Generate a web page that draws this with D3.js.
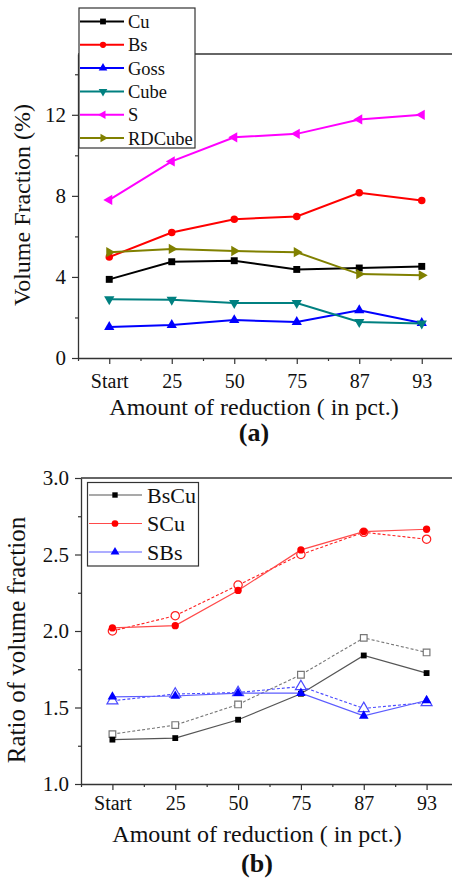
<!DOCTYPE html>
<html>
<head>
<meta charset="utf-8">
<script src="https://cdn.jsdelivr.net/npm/d3@7"></script>
<style>
  html, body { margin: 0; padding: 0; background: #fff; }
  svg { display: block; }
  text { font-family: "Liberation Serif", "Times New Roman", serif; fill: #111; }
</style>
</head>
<body>
<svg id="fig" width="452" height="879"></svg>
<script>
// Reduction steps shared by both panels
const reductionLabels = ["Start", "25", "50", "75", "87", "93"];

// Panel (a): texture component volume fractions (%)
const cuValues     = [3.88, 4.75, 4.80, 4.37, 4.44, 4.52];
const bsValues     = [4.98, 6.19, 6.85, 6.98, 8.15, 7.77];
const gossValues   = [1.53, 1.63, 1.87, 1.78, 2.36, 1.73];
const cubeValues   = [2.90, 2.87, 2.71, 2.71, 1.78, 1.70];
const sValues      = [7.80, 9.70, 10.89, 11.06, 11.77, 12.00];
const rdCubeValues = [5.22, 5.38, 5.28, 5.22, 4.14, 4.08];
const panelATicks  = [0, 4, 8, 12];

// Panel (b): ratios of volume fractions (filled = measured, open = second set)
const bsCuRatio    = [1.29, 1.30, 1.42, 1.59, 1.84, 1.725];
const bsCuRatioAlt = [1.326, 1.385, 1.52, 1.714, 1.955, 1.86];
const sCuRatio     = [2.02, 2.035, 2.265, 2.53, 2.65, 2.665];
const sCuRatioAlt  = [2.00, 2.10, 2.30, 2.50, 2.645, 2.60];
const sBsRatio     = [1.57, 1.575, 1.594, 1.594, 1.445, 1.546];
const sBsRatioAlt  = [1.544, 1.588, 1.598, 1.637, 1.494, 1.533];
const panelBTicks  = [1.0, 1.5, 2.0, 2.5, 3.0];

const svg = d3.select("#fig");
const idx = d3.range(reductionLabels.length);
const halfIdx = d3.range(-0.5, reductionLabels.length, 1);

function symbolPath(type, size) {
  return d3.symbol().type(type).size(size)();
}

function drawAxes(g, x, y, opt) {
  const [x0, x1] = x.range();
  const [yb, yt] = y.range();
  // frame line along the top
  g.append("line").attr("x1", x0).attr("x2", x1).attr("y1", yt).attr("y2", yt)
    .attr("stroke", "#333").attr("stroke-width", 1.3);

  const xMajor = d3.axisBottom(x).tickValues(idx).tickSize(6).tickSizeOuter(0)
    .tickPadding(opt.xPad).tickFormat(i => reductionLabels[i]);
  const xa = g.append("g").attr("transform", `translate(0,${yb})`).call(xMajor);
  g.append("g").attr("transform", `translate(0,${yb})`)
    .call(d3.axisBottom(x).tickValues(halfIdx).tickSize(3).tickSizeOuter(0).tickFormat(""))
    .select(".domain").remove();

  const yMajor = d3.axisLeft(y).tickValues(opt.yTicks).tickSize(6).tickSizeOuter(0)
    .tickPadding(6).tickFormat(opt.yFormat);
  const ya = g.append("g").attr("transform", `translate(${x0},0)`).call(yMajor);
  g.append("g").attr("transform", `translate(${x0},0)`)
    .call(d3.axisLeft(y).tickValues(opt.yMinor).tickSize(3).tickSizeOuter(0).tickFormat(""))
    .select(".domain").remove();

  g.selectAll(".domain").attr("stroke", "#333").attr("stroke-width", 1.3);
  g.selectAll(".tick line").attr("stroke", "#333").attr("stroke-width", 1.2);
  xa.selectAll("text").attr("font-size", 20).attr("fill", "#111")
    .style("font-family", '"Liberation Serif", serif');
  ya.selectAll("text").attr("font-size", 21).attr("fill", "#111")
    .style("font-family", '"Liberation Serif", serif');

  g.append("text").attr("x", opt.titleX).attr("y", opt.titleY)
    .attr("text-anchor", "middle").attr("font-size", 24)
    .text("Amount of reduction ( in pct.)");
  g.append("text")
    .attr("transform", `translate(${opt.ylabX},${opt.ylabY}) rotate(-90)`)
    .attr("text-anchor", "middle").attr("font-size", opt.ylabSize)
    .text(opt.ylabel);
  g.append("text").attr("x", opt.titleX).attr("y", opt.tagY)
    .attr("text-anchor", "middle").attr("font-size", 26).attr("font-weight", "bold")
    .text(opt.tag);
}

// ---------- Panel (a) ----------
{
  const g = svg.append("g");
  const x = d3.scaleLinear().domain([-0.5, 5.5]).range([78, 453]);
  const y = d3.scaleLinear().domain([0, 15]).range([358, 54]);

  drawAxes(g, x, y, {
    xPad: 10, yTicks: panelATicks, yMinor: [2, 6, 10, 14], yFormat: d3.format("d"),
    titleX: 254, titleY: 415, tagY: 441, tag: "(a)",
    ylabX: 30, ylabY: 205, ylabSize: 24, ylabel: "Volume Fraction (%)"
  });

  const series = [
    { name: "Cu",     values: cuValues,     color: "#000000", sym: d3.symbolSquare,   rot: 0,   size: 48 },
    { name: "Bs",     values: bsValues,     color: "#ff0000", sym: d3.symbolCircle,   rot: 0,   size: 44 },
    { name: "Goss",   values: gossValues,   color: "#0000ff", sym: d3.symbolTriangle, rot: 0,   size: 46 },
    { name: "Cube",   values: cubeValues,   color: "#008080", sym: d3.symbolTriangle, rot: 180, size: 46 },
    { name: "S",      values: sValues,      color: "#ff00ff", sym: d3.symbolTriangle, rot: -90, size: 46 },
    { name: "RDCube", values: rdCubeValues, color: "#808000", sym: d3.symbolTriangle, rot: 90,  size: 46 }
  ];

  const line = d3.line().x((d, i) => x(i)).y(d => y(d));
  series.forEach(s => {
    g.append("path").datum(s.values).attr("d", line)
      .attr("fill", "none").attr("stroke", s.color).attr("stroke-width", 2);
    g.selectAll(null).data(s.values).enter().append("path")
      .attr("d", symbolPath(s.sym, s.size))
      .attr("transform", (d, i) => `translate(${x(i)},${y(d)}) rotate(${s.rot})`)
      .attr("fill", s.color);
  });

  // legend
  const lg = g.append("g");
  lg.append("rect").attr("x", 79).attr("y", 8).attr("width", 116).attr("height", 140)
    .attr("fill", "#fff").attr("stroke", "#333").attr("stroke-width", 1.2);
  series.forEach((s, k) => {
    const ly = 21.5 + k * 23.3;
    lg.append("line").attr("x1", 80).attr("x2", 124).attr("y1", ly).attr("y2", ly)
      .attr("stroke", s.color).attr("stroke-width", 2);
    lg.append("path").attr("d", symbolPath(s.sym, s.size * 0.7))
      .attr("transform", `translate(103,${ly}) rotate(${s.rot})`).attr("fill", s.color);
    lg.append("text").attr("x", 128).attr("y", ly + 6.5).attr("font-size", 18.5).text(s.name);
  });
}

// ---------- Panel (b) ----------
{
  const g = svg.append("g");
  const x = d3.scaleLinear().domain([-0.5, 5.5]).range([81, 458]);
  const y = d3.scaleLinear().domain([1, 3]).range([784, 478]);

  drawAxes(g, x, y, {
    xPad: 6, yTicks: panelBTicks, yMinor: [1.25, 1.75, 2.25, 2.75], yFormat: d3.format(".1f"),
    titleX: 257, titleY: 842, tagY: 872, tag: "(b)",
    ylabX: 25, ylabY: 640, ylabSize: 25, ylabel: "Ratio of volume fraction"
  });

  const series = [
    { name: "BsCu", values: bsCuRatio, alt: bsCuRatioAlt, line: "#555555", mark: "#000000", altColor: "#777777",
      sym: d3.symbolSquare, size: 34 },
    { name: "SCu",  values: sCuRatio,  alt: sCuRatioAlt,  line: "#ff4a4a", mark: "#ff0000", altColor: "#ff2020",
      sym: d3.symbolCircle, size: 42 },
    { name: "SBs",  values: sBsRatio,  alt: sBsRatioAlt,  line: "#5c5cff", mark: "#0000ff", altColor: "#4a4aff",
      sym: d3.symbolTriangle, size: 40 }
  ];

  const line = d3.line().x((d, i) => x(i)).y(d => y(d));
  series.forEach(s => {
    // second data set: dashed line with open markers
    g.append("path").datum(s.alt).attr("d", line)
      .attr("fill", "none").attr("stroke", s.altColor).attr("stroke-width", 1.1)
      .attr("stroke-dasharray", "3,2");
    g.selectAll(null).data(s.alt).enter().append("path")
      .attr("d", symbolPath(s.sym, s.size * 1.3))
      .attr("transform", (d, i) => `translate(${x(i)},${y(d)})`)
      .attr("fill", "#fff").attr("stroke", s.altColor).attr("stroke-width", 1.2);
    // measured set: solid line with filled markers
    g.append("path").datum(s.values).attr("d", line)
      .attr("fill", "none").attr("stroke", s.line).attr("stroke-width", 1.2);
    g.selectAll(null).data(s.values).enter().append("path")
      .attr("d", symbolPath(s.sym, s.size))
      .attr("transform", (d, i) => `translate(${x(i)},${y(d)})`)
      .attr("fill", s.mark);
  });

  // legend
  const lg = g.append("g");
  lg.append("rect").attr("x", 87.5).attr("y", 482.5).attr("width", 111).attr("height", 83.5)
    .attr("fill", "#fff").attr("stroke", "#333").attr("stroke-width", 1.2);
  series.forEach((s, k) => {
    const ly = 495 + k * 28.5;
    lg.append("line").attr("x1", 89).attr("x2", 142).attr("y1", ly).attr("y2", ly)
      .attr("stroke", s.line).attr("stroke-width", 1.1);
    lg.append("path").attr("d", symbolPath(s.sym, s.size * 0.85))
      .attr("transform", `translate(115,${ly})`).attr("fill", s.mark);
    lg.append("text").attr("x", 147).attr("y", ly + 7.5).attr("font-size", 22).text(s.name);
  });
}
</script>
</body>
</html>
